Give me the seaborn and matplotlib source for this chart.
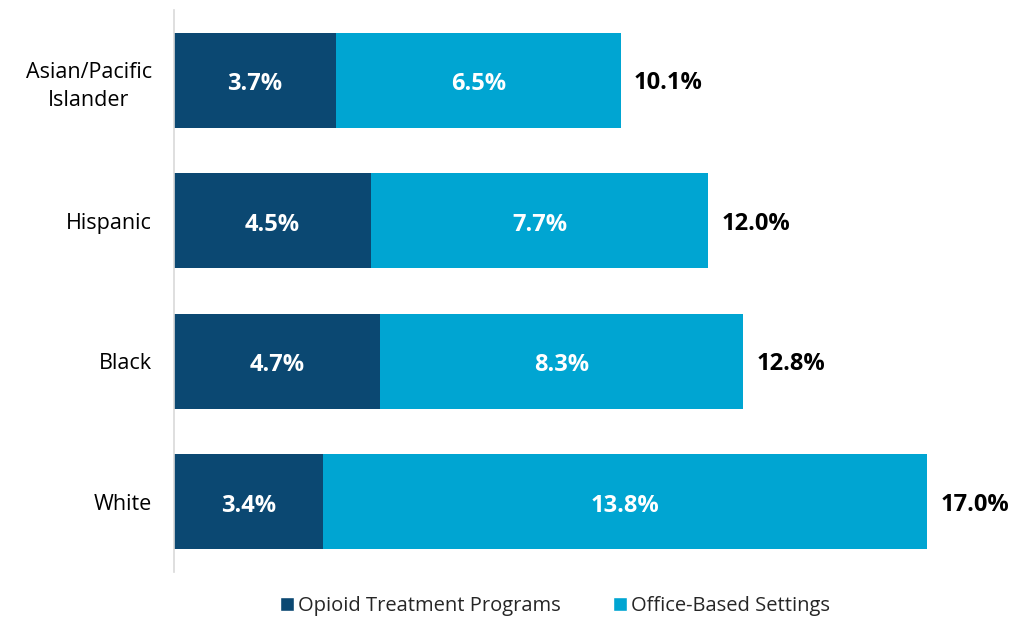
import numpy as np
import pandas as pd
import matplotlib
matplotlib.use("Agg")
import matplotlib.pyplot as plt
import seaborn as sns
from matplotlib.patches import Patch

groups = ["Asian/Pacific\nIslander", "Hispanic", "Black", "White"]
otp = [3.7, 4.5, 4.7, 3.4]
obs = [6.5, 7.7, 8.3, 13.8]
totals = [10.1, 12.0, 12.8, 17.0]

dark = "#0B4872"
light = "#00A5D2"

sns.set_theme(style="white")
plt.rcParams["font.family"] = ["Open Sans", "DejaVu Sans"]

df = pd.DataFrame({"group": groups, "otp": otp, "obs": obs, "total": totals})
df["stack"] = df["otp"] + df["obs"]

fig = plt.figure(figsize=(10.1, 6.17), dpi=100)
ax = fig.add_axes([174 / 1010, 45 / 617, 820 / 1010, 562 / 617])

sns.barplot(data=df, x="stack", y="group", color=light, saturation=1,
            width=0.676, linewidth=0, ax=ax, orient="h")
sns.barplot(data=df, x="otp", y="group", color=dark, saturation=1,
            width=0.676, linewidth=0, ax=ax, orient="h")

for i, row in df.iterrows():
    ax.text(row["otp"] / 2, i + 0.03, f"{row['otp']:.1f}%", color="white",
            ha="center", va="center", fontsize=17, fontweight="bold")
    ax.text(row["otp"] + row["obs"] / 2, i + 0.03, f"{row['obs']:.1f}%", color="white",
            ha="center", va="center", fontsize=17, fontweight="bold")
    ax.text(row["stack"] + 0.3, i + 0.02, f"{row['total']:.1f}%", color="black",
            ha="left", va="center", fontsize=17, fontweight="bold")

ax.set_xlim(0, 18.72)
ax.set_ylim(3.5, -0.5)
ax.set_xlabel("")
ax.set_ylabel("")
ax.set_xticks([])
ax.tick_params(axis="y", length=0, pad=16, labelsize=15.5, labelcolor="black")
for lab in ax.get_yticklabels():
    lab.set_multialignment("center")
    lab.set_linespacing(1.45)
for s in ["top", "right", "bottom"]:
    ax.spines[s].set_visible(False)
ax.spines["left"].set_color("#D9D9D9")
ax.spines["left"].set_linewidth(1.2)

handles = [Patch(facecolor=dark, label="Opioid Treatment Programs"),
           Patch(facecolor=light, label="Office-Based Settings")]
fig.legend(handles=handles, loc="center", bbox_to_anchor=(555 / 1010, 1 - 606 / 617),
           ncol=2, frameon=False, fontsize=14.5, handlelength=0.7, handleheight=0.7,
           handletextpad=0.2, columnspacing=2.6)

fig.savefig("out.png", dpi=100)
